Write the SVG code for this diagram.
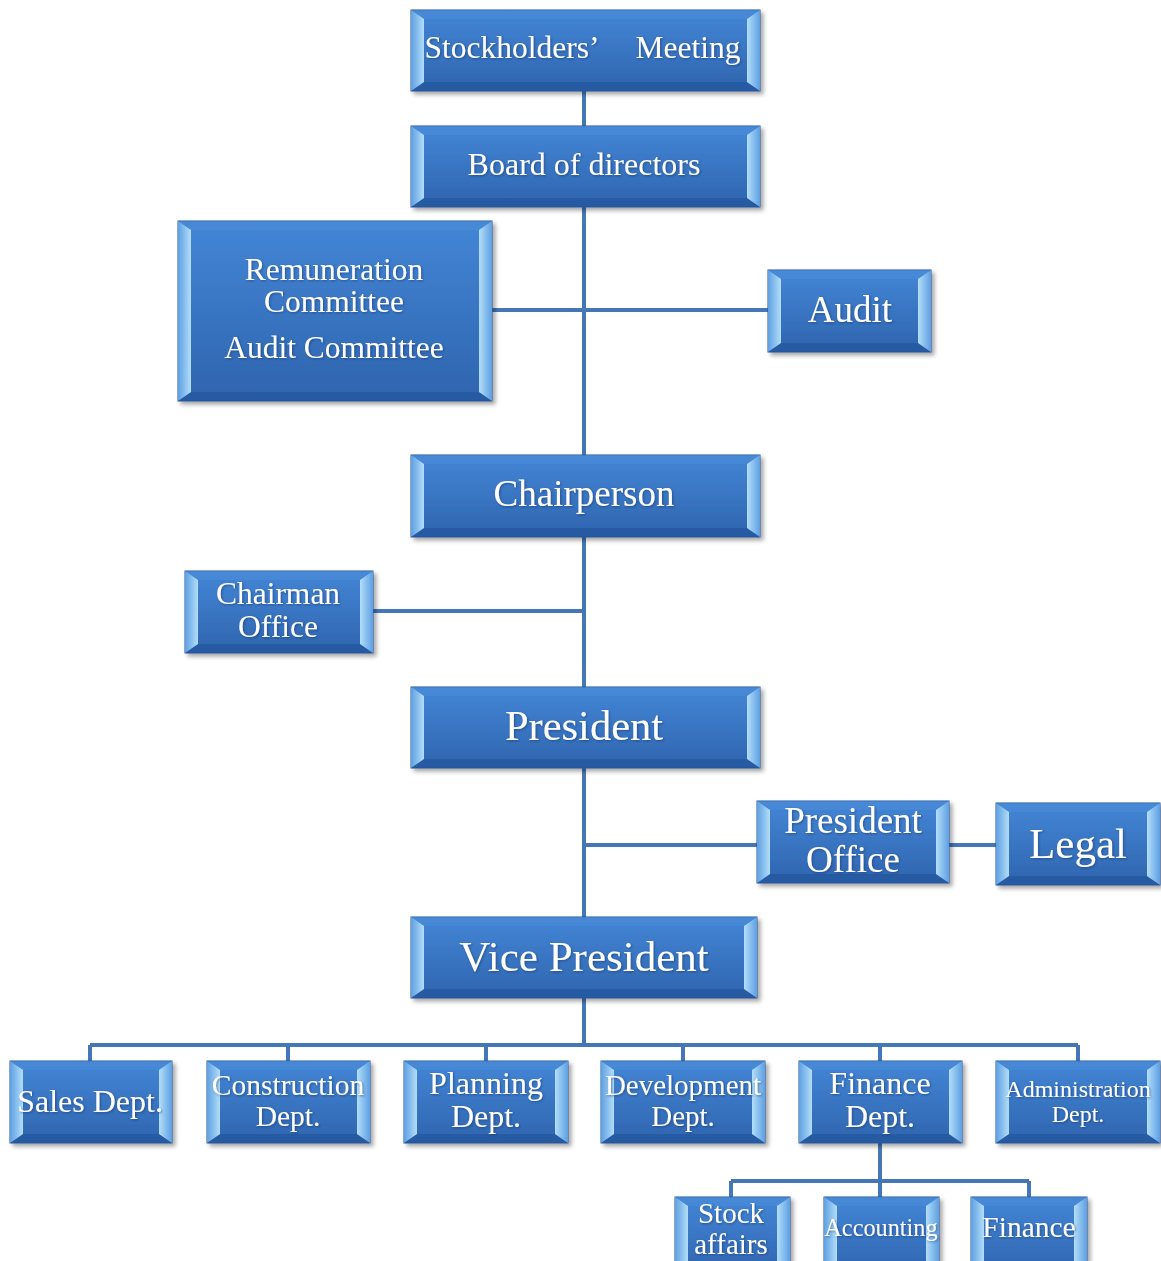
<svg xmlns="http://www.w3.org/2000/svg" width="1161" height="1261" viewBox="0 0 1161 1261">
<defs>
<linearGradient id="body" x1="0" y1="0" x2="0" y2="1"><stop offset="0" stop-color="#4386d6"/><stop offset="1" stop-color="#2f64ae"/></linearGradient>
<linearGradient id="lf" x1="0" y1="0" x2="1" y2="0"><stop offset="0" stop-color="#5d9fe2"/><stop offset="1" stop-color="#b3def9"/></linearGradient>
<linearGradient id="rf" x1="0" y1="0" x2="1" y2="0"><stop offset="0" stop-color="#b3def9"/><stop offset="1" stop-color="#5d9fe2"/></linearGradient>
<filter id="sh" x="-10%" y="-10%" width="130%" height="140%"><feDropShadow dx="3" dy="3" stdDeviation="2" flood-color="#000" flood-opacity="0.35"/></filter>
<filter id="tsh" x="-10%" y="-20%" width="120%" height="150%"><feDropShadow dx="1" dy="1" stdDeviation="1" flood-color="#0a2a55" flood-opacity="0.5"/></filter>
</defs>
<style>
.b{fill:url(#body);stroke:#2a5590;stroke-width:1}
.l{fill:url(#lf)}
.r{fill:url(#rf)}
.t{fill:#4a8cd9;opacity:0.6}
.m{fill:#23569c;opacity:0.7}
text{font-family:"Liberation Serif","Times New Roman",serif;fill:#fff;text-anchor:middle;filter:url(#tsh)}
.c{fill:none;stroke:#4477b8;stroke-width:4}
</style>
<g id="connectors">
<path class="c" d="M584 91V126M584 207V455M584 310H492M584 310H768M584 537V687M584 611H373M584 768V917M584 845H757M949 845H996M584 998V1045M90 1045H1078M90 1045V1061M288 1045V1061M486 1045V1061M683 1045V1061M880 1045V1061M1078 1045V1061M880 1143V1181M731 1181H1029M731 1181V1197M880 1181V1197M1029 1181V1197"/>
</g>
<g id="n1" filter="url(#sh)"><rect class="b" x="411" y="10" width="349" height="81"/><polygon class="t" points="411,10 760,10 747,19 424,19"/><polygon class="m" points="411,91 760,91 747,82 424,82"/><polygon class="l" points="411,10 424,19 424,82 411,91"/><polygon class="r" points="760,10 747,19 747,82 760,91"/></g>
<text x="512" y="58" font-size="31.5">Stockholders’</text><text x="688" y="58" font-size="31.5">Meeting</text>
<g id="n2" filter="url(#sh)"><rect class="b" x="411" y="126" width="349" height="81"/><polygon class="t" points="411,126 760,126 747,135 424,135"/><polygon class="m" points="411,207 760,207 747,198 424,198"/><polygon class="l" points="411,126 424,135 424,198 411,207"/><polygon class="r" points="760,126 747,135 747,198 760,207"/></g>
<text x="584" y="175" font-size="32">Board of directors</text>
<g id="n3" filter="url(#sh)"><rect class="b" x="178" y="221" width="314" height="180"/><polygon class="t" points="178,221 492,221 479,230 191,230"/><polygon class="m" points="178,401 492,401 479,392 191,392"/><polygon class="l" points="178,221 191,230 191,392 178,401"/><polygon class="r" points="492,221 479,230 479,392 492,401"/></g>
<text font-size="31.5"><tspan x="334" y="280">Remuneration</tspan><tspan x="334" y="312">Committee</tspan><tspan x="334" y="358">Audit Committee</tspan></text>
<g id="n4" filter="url(#sh)"><rect class="b" x="768" y="270" width="163" height="82"/><polygon class="t" points="768,270 931,270 918,279 781,279"/><polygon class="m" points="768,352 931,352 918,343 781,343"/><polygon class="l" points="768,270 781,279 781,343 768,352"/><polygon class="r" points="931,270 918,279 918,343 931,352"/></g>
<text x="850" y="322" font-size="37">Audit</text>
<g id="n5" filter="url(#sh)"><rect class="b" x="411" y="455" width="349" height="82"/><polygon class="t" points="411,455 760,455 747,464 424,464"/><polygon class="m" points="411,537 760,537 747,528 424,528"/><polygon class="l" points="411,455 424,464 424,528 411,537"/><polygon class="r" points="760,455 747,464 747,528 760,537"/></g>
<text x="584" y="506" font-size="37">Chairperson</text>
<g id="n6" filter="url(#sh)"><rect class="b" x="185" y="571" width="188" height="82"/><polygon class="t" points="185,571 373,571 360,580 198,580"/><polygon class="m" points="185,653 373,653 360,644 198,644"/><polygon class="l" points="185,571 198,580 198,644 185,653"/><polygon class="r" points="373,571 360,580 360,644 373,653"/></g>
<text font-size="31.5"><tspan x="278" y="604">Chairman</tspan><tspan x="278" y="637">Office</tspan></text>
<g id="n7" filter="url(#sh)"><rect class="b" x="411" y="687" width="349" height="81"/><polygon class="t" points="411,687 760,687 747,696 424,696"/><polygon class="m" points="411,768 760,768 747,759 424,759"/><polygon class="l" points="411,687 424,696 424,759 411,768"/><polygon class="r" points="760,687 747,696 747,759 760,768"/></g>
<text x="584" y="740" font-size="42.5">President</text>
<g id="n8" filter="url(#sh)"><rect class="b" x="757" y="801" width="192" height="82"/><polygon class="t" points="757,801 949,801 936,810 770,810"/><polygon class="m" points="757,883 949,883 936,874 770,874"/><polygon class="l" points="757,801 770,810 770,874 757,883"/><polygon class="r" points="949,801 936,810 936,874 949,883"/></g>
<text font-size="37"><tspan x="853" y="833">President</tspan><tspan x="853" y="872">Office</tspan></text>
<g id="n9" filter="url(#sh)"><rect class="b" x="996" y="803" width="164" height="82"/><polygon class="t" points="996,803 1160,803 1147,812 1009,812"/><polygon class="m" points="996,885 1160,885 1147,876 1009,876"/><polygon class="l" points="996,803 1009,812 1009,876 996,885"/><polygon class="r" points="1160,803 1147,812 1147,876 1160,885"/></g>
<text x="1078" y="858" font-size="43">Legal</text>
<g id="n10" filter="url(#sh)"><rect class="b" x="411" y="917" width="346" height="81"/><polygon class="t" points="411,917 757,917 744,926 424,926"/><polygon class="m" points="411,998 757,998 744,989 424,989"/><polygon class="l" points="411,917 424,926 424,989 411,998"/><polygon class="r" points="757,917 744,926 744,989 757,998"/></g>
<text x="584" y="971" font-size="43">Vice President</text>
<g id="n11" filter="url(#sh)"><rect class="b" x="10" y="1061" width="162" height="82"/><polygon class="t" points="10,1061 172,1061 159,1070 23,1070"/><polygon class="m" points="10,1143 172,1143 159,1134 23,1134"/><polygon class="l" points="10,1061 23,1070 23,1134 10,1143"/><polygon class="r" points="172,1061 159,1070 159,1134 172,1143"/></g>
<text x="90" y="1112" font-size="32">Sales Dept.</text>
<g id="n12" filter="url(#sh)"><rect class="b" x="207" y="1061" width="163" height="82"/><polygon class="t" points="207,1061 370,1061 357,1070 220,1070"/><polygon class="m" points="207,1143 370,1143 357,1134 220,1134"/><polygon class="l" points="207,1061 220,1070 220,1134 207,1143"/><polygon class="r" points="370,1061 357,1070 357,1134 370,1143"/></g>
<text font-size="29.5"><tspan x="288" y="1095">Construction</tspan><tspan x="288" y="1126">Dept.</tspan></text>
<g id="n13" filter="url(#sh)"><rect class="b" x="404" y="1061" width="164" height="82"/><polygon class="t" points="404,1061 568,1061 555,1070 417,1070"/><polygon class="m" points="404,1143 568,1143 555,1134 417,1134"/><polygon class="l" points="404,1061 417,1070 417,1134 404,1143"/><polygon class="r" points="568,1061 555,1070 555,1134 568,1143"/></g>
<text font-size="32"><tspan x="486" y="1094">Planning</tspan><tspan x="486" y="1127">Dept.</tspan></text>
<g id="n14" filter="url(#sh)"><rect class="b" x="601" y="1061" width="164" height="82"/><polygon class="t" points="601,1061 765,1061 752,1070 614,1070"/><polygon class="m" points="601,1143 765,1143 752,1134 614,1134"/><polygon class="l" points="601,1061 614,1070 614,1134 601,1143"/><polygon class="r" points="765,1061 752,1070 752,1134 765,1143"/></g>
<text font-size="29"><tspan x="683" y="1095">Development</tspan><tspan x="683" y="1126">Dept.</tspan></text>
<g id="n15" filter="url(#sh)"><rect class="b" x="799" y="1061" width="163" height="82"/><polygon class="t" points="799,1061 962,1061 949,1070 812,1070"/><polygon class="m" points="799,1143 962,1143 949,1134 812,1134"/><polygon class="l" points="799,1061 812,1070 812,1134 799,1143"/><polygon class="r" points="962,1061 949,1070 949,1134 962,1143"/></g>
<text font-size="32"><tspan x="880" y="1094">Finance</tspan><tspan x="880" y="1127">Dept.</tspan></text>
<g id="n16" filter="url(#sh)"><rect class="b" x="996" y="1061" width="164" height="82"/><polygon class="t" points="996,1061 1160,1061 1147,1070 1009,1070"/><polygon class="m" points="996,1143 1160,1143 1147,1134 1009,1134"/><polygon class="l" points="996,1061 1009,1070 1009,1134 996,1143"/><polygon class="r" points="1160,1061 1147,1070 1147,1134 1160,1143"/></g>
<text font-size="24"><tspan x="1078" y="1097">Administration</tspan><tspan x="1078" y="1122">Dept.</tspan></text>
<g id="n17" filter="url(#sh)"><rect class="b" x="675" y="1197" width="115" height="80"/><polygon class="t" points="675,1197 790,1197 777,1206 688,1206"/><polygon class="l" points="675,1197 688,1206 688,1268 675,1277"/><polygon class="r" points="790,1197 777,1206 777,1268 790,1277"/></g>
<text font-size="29"><tspan x="731" y="1223">Stock</tspan><tspan x="731" y="1254">affairs</tspan></text>
<g id="n18" filter="url(#sh)"><rect class="b" x="824" y="1197" width="115" height="80"/><polygon class="t" points="824,1197 939,1197 926,1206 837,1206"/><polygon class="l" points="824,1197 837,1206 837,1268 824,1277"/><polygon class="r" points="939,1197 926,1206 926,1268 939,1277"/></g>
<text x="881" y="1236" font-size="24.3">Accounting</text>
<g id="n19" filter="url(#sh)"><rect class="b" x="971" y="1197" width="116" height="80"/><polygon class="t" points="971,1197 1087,1197 1074,1206 984,1206"/><polygon class="l" points="971,1197 984,1206 984,1268 971,1277"/><polygon class="r" points="1087,1197 1074,1206 1074,1268 1087,1277"/></g>
<text x="1029" y="1237" font-size="29.5">Finance</text>
</svg>
